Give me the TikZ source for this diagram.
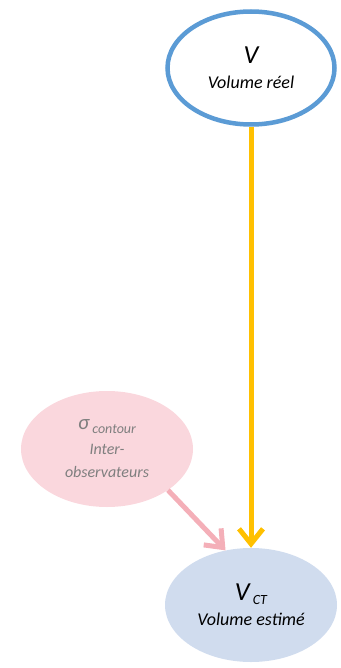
\documentclass[tikz,border=0pt]{standalone}
\usepackage{fontspec}
\setmainfont{Carlito}
\usetikzlibrary{shapes.geometric,arrows.meta}
\definecolor{realblue}{RGB}{91,155,213}
\definecolor{linkyellow}{RGB}{255,192,0}
\definecolor{contourpink}{RGB}{250,215,221}
\definecolor{linkpink}{RGB}{244,175,184}
\definecolor{estimblue}{RGB}{208,220,238}
\definecolor{notegray}{RGB}{127,127,127}
\newcommand{\bigsize}{\fontsize{26}{26}\selectfont}
\newcommand{\subsize}{\fontsize{14}{24}\selectfont}

\begin{document}
\begin{tikzpicture}[x=1pt,y=1pt,
    bubble/.style={ellipse,inner sep=0pt,minimum width=172pt,minimum height=116pt,
      align=center,font=\itshape\fontsize{18}{25}\selectfont},
    link/.style={line width=5pt,-{Straight Barb[length=15pt,width=24pt]}}]
    \useasboundingbox (0,0) rectangle (340,-668);
    % --- nodes ---
    \node[bubble,draw=realblue,line width=4.5pt,minimum width=167pt,minimum height=113pt]
      (real) at (251,-68) {{\bigsize V}\\Volume réel};
    \node[bubble,fill=contourpink,text=notegray,font=\itshape\fontsize{16}{23}\selectfont]
      (contour) at (107,-449) {{\fontsize{21}{24}\selectfont σ}\raisebox{-4pt}{\subsize\ contour}\\[2pt]Inter-\\observateurs};
    \node[bubble,fill=estimblue,minimum height=114pt]
      (estime) at (251,-605) {{\bigsize V}\raisebox{-4pt}{\subsize\ CT}\\Volume estimé};
    % --- links ---
    \draw[link,linkyellow] (real) -- (estime);
    \draw[link,linkpink] (contour.-34) -- (estime.115);
\end{tikzpicture}
\end{document}
